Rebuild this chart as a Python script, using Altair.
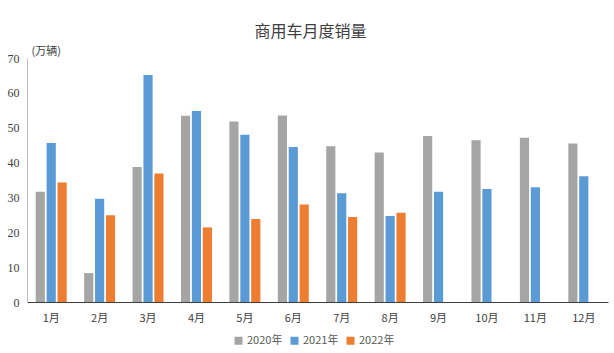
import altair as alt
import pandas as pd

months = ["1月", "2月", "3月", "4月", "5月", "6月", "7月", "8月", "9月", "10月", "11月", "12月"]
years = ["2020年", "2021年", "2022年"]
sales_2020 = [31.6, 8.3, 38.7, 53.4, 51.8, 53.5, 44.7, 42.9, 47.6, 46.4, 47.1, 45.5]
sales_2021 = [45.6, 29.6, 65.1, 54.8, 48.0, 44.5, 31.2, 24.7, 31.6, 32.4, 32.9, 36.1]
sales_2022 = [34.3, 24.9, 36.9, 21.4, 23.8, 28.0, 24.4, 25.6, None, None, None, None]
colors = ["#A5A5A5", "#5B9BD5", "#ED7D31"]

rows = []
for yr, vals in zip(years, [sales_2020, sales_2021, sales_2022]):
    for m, v in zip(months, vals):
        if v is not None:
            rows.append({"月份": m, "年份": yr, "销量": v})
df = pd.DataFrame(rows)

FONT = "Noto Sans CJK SC"

chart = alt.Chart(df).mark_bar(stroke=None).encode(
    x=alt.X("月份:N", sort=months,
            scale=alt.Scale(paddingInner=0.36, paddingOuter=0.18),
            axis=alt.Axis(title=None, labelAngle=0, ticks=False, labelPadding=10,
                          domainColor="#404040", domainWidth=1.2,
                          labelFont=FONT, labelFontSize=11, labelColor="#404040")),
    xOffset=alt.XOffset("年份:N", sort=years, scale=alt.Scale(paddingInner=0.16)),
    y=alt.Y("销量:Q", scale=alt.Scale(domain=[0, 70]),
            axis=alt.Axis(values=[0, 10, 20, 30, 40, 50, 60, 70], grid=False, ticks=False,
                          labelPadding=8, domainColor="#BFBFBF", domainWidth=1,
                          labelFont="Liberation Serif", labelFontSize=12, labelColor="#404040",
                          title="(万辆)", titleAngle=0, titleX=4, titleY=-2,
                          titleAlign="left", titleBaseline="bottom",
                          titleFont=FONT, titleFontSize=11, titleFontWeight="normal",
                          titleColor="#404040")),
    color=alt.Color("年份:N", sort=years, scale=alt.Scale(domain=years, range=colors),
                    legend=alt.Legend(title=None, orient="none", direction="horizontal",
                                      legendX=206, legendY=277, symbolType="square",
                                      symbolSize=64, symbolStrokeWidth=0,
                                      labelFont=FONT, labelFontSize=11, labelColor="#595959",
                                      columnPadding=6, symbolOffset=0, labelOffset=3)),
).properties(
    width=581,
    height=244,
    title=alt.Title("商用车月度销量", font=FONT, fontSize=16, fontWeight="normal",
                    color="#404040", anchor="middle", offset=5, dx=-7),
    autosize=alt.AutoSizeParams(type="none"),
    padding={"left": 27, "top": 58, "right": 6, "bottom": 51},
).configure_view(stroke=None)

chart.save("out.html", embed_options={"renderer": "svg", "actions": False})
